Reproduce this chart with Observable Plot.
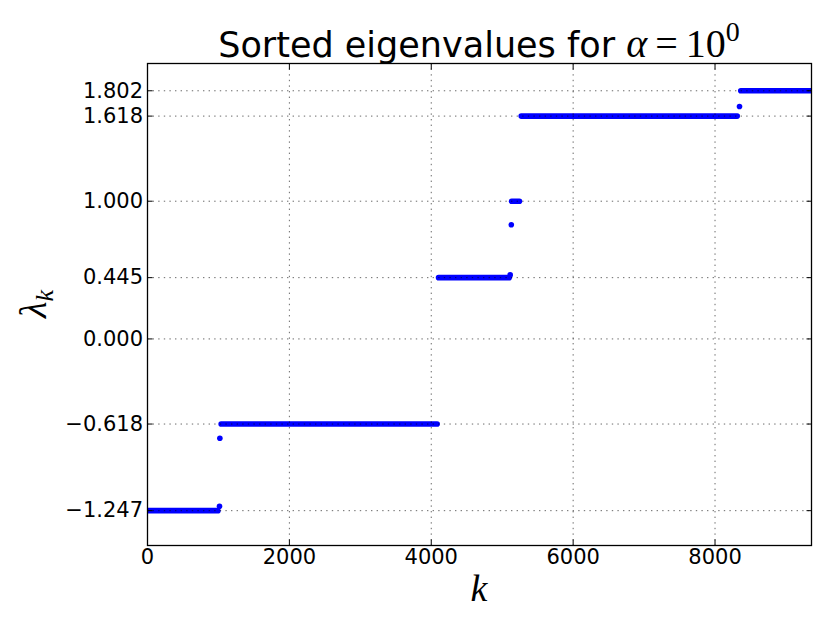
<!DOCTYPE html>
<html>
<head>
<meta charset="utf-8">
<script src="https://cdn.jsdelivr.net/npm/d3@7"></script>
<script src="https://cdn.jsdelivr.net/npm/@observablehq/plot@0.6"></script>
<style>
  html, body { margin: 0; padding: 0; background: white; }
</style>
</head>
<body>
<div id="chart"></div>
<script>
// Plateaus of (nearly) equal eigenvalues: index range and value
const plateauStart = [0, 1045, 4110, 5140, 5275, 8370];
const plateauEnd   = [1000, 4090, 5105, 5250, 8320, 9360];
const plateauValue = [-1.247, -0.618, 0.445, 1.000, 1.618, 1.802];
// Isolated eigenvalues between the plateaus
const isolatedK     = [1015, 1020, 5113, 5128, 8345];
const isolatedValue = [-1.215, -0.721, 0.465, 0.829, 1.688];
// Axis ticks
const xTicks = [0, 2000, 4000, 6000, 8000];
const yTicks = [-1.247, -0.618, 0.000, 0.445, 1.000, 1.618, 1.802];
const xDomain = [0, 9360];
const yDomain = [-1.5, 2.0];

const plateaus = plateauValue.map((v, i) => ({x1: plateauStart[i], x2: plateauEnd[i], y: v}));
const isolated = isolatedK.map((k, i) => ({k, v: isolatedValue[i]}));

const blue = "#0000ff";
const gridStyle = {stroke: "black", strokeWidth: 0.7, strokeOpacity: 0.85, strokeDasharray: "1.4,4.2"};
const fmt = d3.format(".3f");

const chart = Plot.plot({
  width: 830,
  height: 623,
  marginLeft: 147,
  marginRight: 19,
  marginTop: 63,
  marginBottom: 78,
  style: {fontFamily: "'DejaVu Sans', sans-serif", fontSize: "21px", color: "black", background: "white"},
  x: {domain: xDomain},
  y: {domain: yDomain},
  marks: [
    Plot.ruleY(plateaus, {x1: "x1", x2: "x2", y: "y", stroke: blue, strokeWidth: 5.6, strokeLinecap: "round", clip: true}),
    Plot.dot(isolated, {x: "k", y: "v", r: 2.8, fill: blue, stroke: null, clip: true}),
    Plot.ruleX(xTicks.filter(d => d > xDomain[0]), {...gridStyle}),
    Plot.ruleY(yTicks, {...gridStyle}),
    Plot.axisX(xTicks, {anchor: "bottom", tickSize: -5.5, tickPadding: 9, label: null, tickFormat: d => String(d), fontSize: 21}),
    Plot.axisX(xTicks, {anchor: "top", tickSize: -5.5, label: null, tickFormat: () => ""}),
    Plot.axisY(yTicks, {anchor: "left", tickSize: -5.5, tickPadding: 10, label: null, tickFormat: fmt, fontSize: 21}),
    Plot.axisY(yTicks, {anchor: "right", tickSize: -5.5, label: null, tickFormat: () => ""}),
    Plot.frame({stroke: "black", strokeWidth: 1.3})
  ]
});

const svg = d3.select(chart);
const xr = chart.scale("x").range;
const yr = chart.scale("y").range;
const cx = (xr[0] + xr[1]) / 2;
const cy = (yr[0] + yr[1]) / 2;
const serif = "'Liberation Serif', 'DejaVu Serif', serif";

// Title
const title = svg.append("text")
  .attr("x", cx).attr("y", 57)
  .attr("text-anchor", "middle")
  .attr("font-family", "'DejaVu Sans', sans-serif")
  .attr("font-size", 35)
  .attr("fill", "black");
title.append("tspan").text("Sorted eigenvalues for ");
title.append("tspan").attr("font-family", serif).attr("font-style", "italic").attr("font-size", 40).text("α");
title.append("tspan").attr("font-family", serif).attr("font-size", 40).text("\u2009=\u200910");
title.append("tspan").attr("font-family", serif).attr("font-size", 28).attr("dy", -16).text("0");

// X label
svg.append("text")
  .attr("x", cx).attr("y", 601)
  .attr("text-anchor", "middle")
  .attr("font-family", serif).attr("font-style", "italic")
  .attr("font-size", 38).attr("fill", "black")
  .text("k");

// Y label
const yl = svg.append("text")
  .attr("transform", `translate(46,${cy}) rotate(-90)`)
  .attr("text-anchor", "middle")
  .attr("font-family", serif).attr("font-style", "italic")
  .attr("font-size", 38).attr("fill", "black");
yl.append("tspan").text("λ");
yl.append("tspan").attr("font-size", 26).attr("dy", 7).text("k");

document.getElementById("chart").appendChild(chart);
</script>
</body>
</html>
